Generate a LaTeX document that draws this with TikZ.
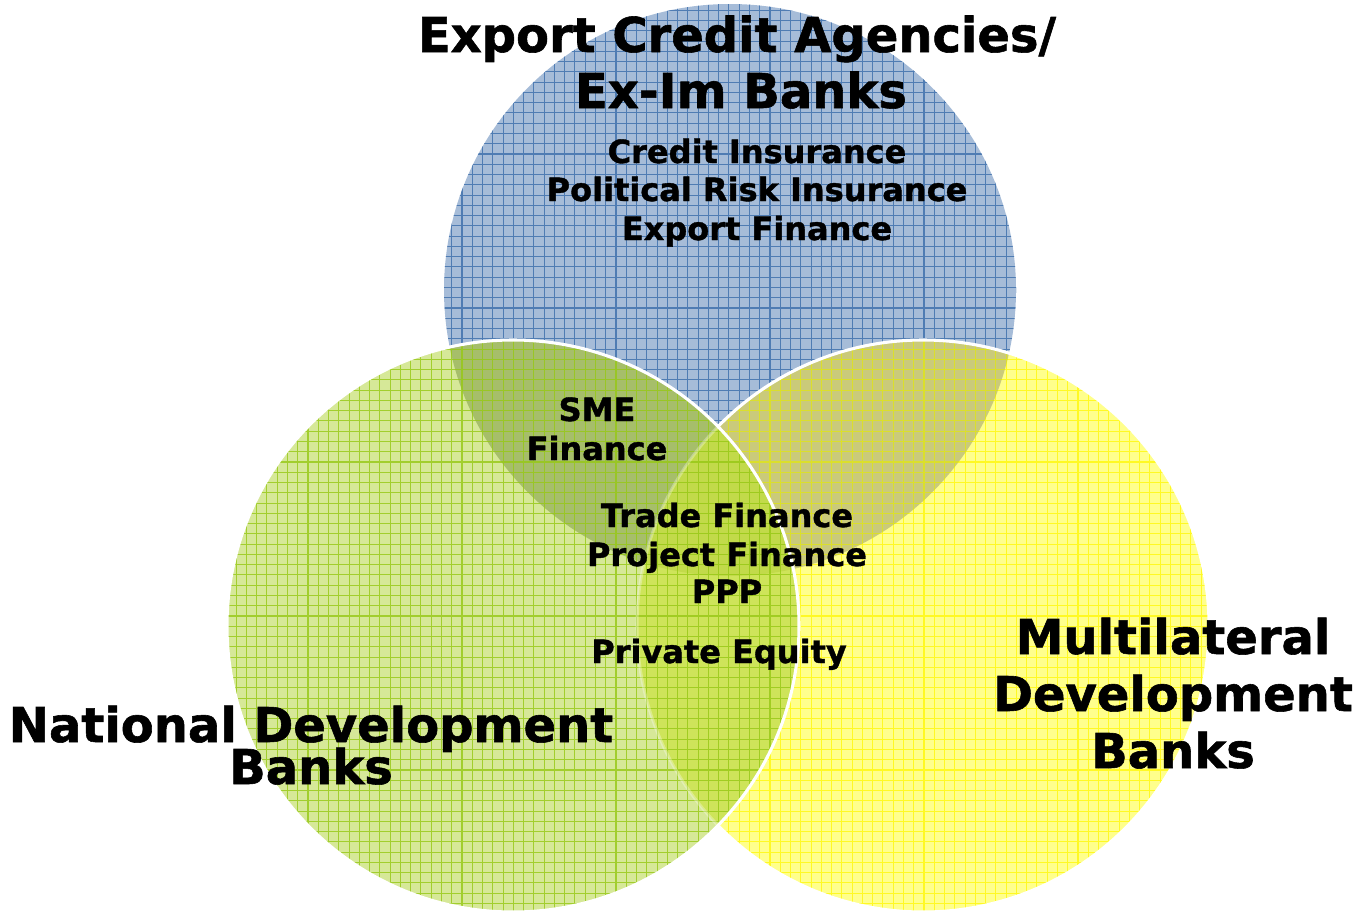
\documentclass[tikz,border=0pt]{standalone}
\usepackage{fontspec}
\setmainfont{DejaVu Sans}[BoldFeatures={FakeBold=1.2}]
\definecolor{bluebase}{RGB}{166,188,216}
\definecolor{blueline}{RGB}{79,124,179}
\definecolor{greenbase}{RGB}{214,232,152}
\definecolor{greenline}{RGB}{150,200,20}
\definecolor{yellowbase}{RGB}{255,255,140}
\definecolor{yellowline}{RGB}{255,248,10}
\definecolor{byfill}{RGB}{202,202,122}
\definecolor{bgfill}{RGB}{166,190,106}
\definecolor{gyfill}{RGB}{206,228,90}
\definecolor{bgyfill}{RGB}{194,218,74}
\def\R{214.5pt}
\begin{document}
\begin{tikzpicture}[x=0.75pt,y=-0.75pt,
  gridline/.style={line width=0.8pt},
  outline/.style={draw=white,line width=2.3pt},
  big/.style={font=\bfseries\fontsize{36pt}{40pt}\selectfont,anchor=base,inner sep=0pt},
  small/.style={font=\bfseries\fontsize{24pt}{28pt}\selectfont,anchor=base,inner sep=0pt}]
\useasboundingbox (0,0) rectangle (1358,914);
\coordinate (B) at (730,290);
\coordinate (Y) at (923,626);
\coordinate (G) at (513,626);
% blue and yellow circles
\fill[bluebase] (B) circle[radius=\R];
\fill[yellowbase] (Y) circle[radius=\R];
\begin{scope}
  \clip (B) circle[radius=\R];
  \fill[byfill] (Y) circle[radius=\R];
\end{scope}
\begin{scope}
  \clip (B) circle[radius=\R];
  \draw[gridline,blueline,step=7.7pt] (0,914) grid (1358,0);
\end{scope}
\begin{scope}
  \clip (Y) circle[radius=\R];
  \draw[gridline,yellowline,opacity=0.8,step=7.7pt] (0,914) grid (1358,0);
\end{scope}
\draw[outline] (Y) circle[radius=\R];
% green circle and its overlaps
\begin{scope}
  \clip (G) circle[radius=\R];
  \fill[greenbase] (G) circle[radius=\R];
  \fill[bgfill] (B) circle[radius=\R];
  \fill[gyfill] (Y) circle[radius=\R];
  \begin{scope}
    \clip (B) circle[radius=\R];
    \fill[bgyfill] (Y) circle[radius=\R];
  \end{scope}
  \draw[gridline,greenline,opacity=0.8,step=7.7pt] (0,914) grid (1358,0);
  \draw[outline,opacity=0.3] (Y) circle[radius=\R];
\end{scope}
\draw[outline] (G) circle[radius=\R];
% texts
\node[big] (e1) at (737,52) {Export Credit Agencies/};
\node[big] (e2) at (741,108) {Ex-Im Banks};
\node[small] (c1) at (757,163) {Credit Insurance};
\node[small] (c2) at (757,201) {Political Risk Insurance};
\node[small] (c3) at (757,240) {Export Finance};
\node[small] (s1) at (597,421) {SME};
\node[small] (s2) at (597,460) {Finance};
\node[small] (t1) at (727,527) {Trade Finance};
\node[small] (t2) at (727,566) {Project Finance};
\node[small] (t3) at (727,603) {PPP};
\node[small] (t4) at (719,663) {Private Equity};
\node[big] (n1) at (311,742) {National Development};
\node[big] (n2) at (311,784) {Banks};
\node[big] (m1) at (1173,654) {Multilateral};
\node[big] (m2) at (1173,711) {Development};
\node[big] (m3) at (1173,768) {Banks};
\end{tikzpicture}
\end{document}
